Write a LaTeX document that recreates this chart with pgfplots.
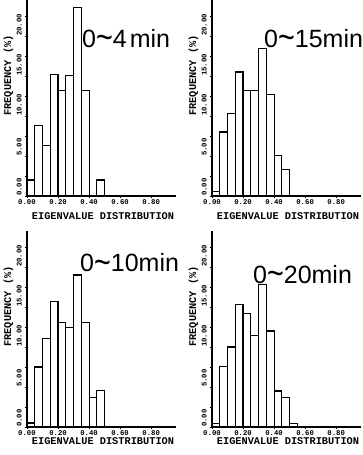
\documentclass[border=0pt]{standalone}
\usepackage{fontspec}
\setmainfont{Liberation Sans}
\newfontfamily\plotfont{Liberation Mono}
\usepackage{pgfplots}
\pgfplotsset{compat=1.18}

\newcommand{\tld}{\raisebox{-2.5pt}{\scalebox{1.15}[1.45]{\textasciitilde}}}

\pgfplotsset{eig/.style={
  scale only axis, width=149pt, height=196pt,
  xmin=0, xmax=0.96, ymin=0, ymax=24.5,
  axis lines=left, axis line style={-, line width=1.2pt},
  xtick={0,0.2,0.4,0.6,0.8}, xticklabels={0.00,0.20,0.40,0.60,0.80},
  ytick={0,5,10,15,20}, yticklabels={0.00,5.00,10.00,15.00,20.00},
  minor ytick={2.5,7.5,12.5,17.5,22.5},
  tick align=outside, major tick length=2.5pt, minor tick length=2.5pt,
  every tick/.style={black, line width=0.8pt},
  tick label style={font=\plotfont\bfseries\fontsize{7.3}{8}\selectfont},
  yticklabel style={xshift=-2.5pt, rotate=90, anchor=south west, inner sep=0pt},
  xticklabel style={inner sep=0pt, anchor=north, yshift=-1pt},
  xlabel={EIGENVALUE DISTRIBUTION},
  ylabel={FREQUENCY (\%)},
  label style={font=\plotfont\bfseries\fontsize{10.3}{12}\selectfont, inner sep=0pt},
  ylabel style={at={(axis description cs:-0.125,0.615)}, anchor=center},
  ybar, bar width=0.05, bar shift=0pt,
  clip=false,
}}
\tikzset{ttl/.style={anchor=base west, inner sep=0pt, font=\fontsize{25}{30}\selectfont},
  hbar/.style={ybar, draw=black, fill=white, line width=1.15pt}}

\begin{document}
\begin{tikzpicture}
\useasboundingbox (0,0) rectangle (362pt,455pt);

% top left: 0~4 min
\begin{axis}[eig, at={(27pt,259pt)}, anchor=south west,
  xlabel style={at={(axis description cs:0.51,-0.102)}, anchor=center}]
\addplot[hbar] coordinates {(0.025,2.0) (0.075,8.8) (0.125,6.3) (0.175,15.2) (0.225,13.2)
  (0.275,15.1) (0.325,23.6) (0.375,13.2) (0.475,2.0)};
\node[ttl] at (axis description cs:0.369,0.76) {0\tld4\hspace{3pt}min};
\end{axis}

% top right: 0~15 min
\begin{axis}[eig, at={(212pt,259pt)}, anchor=south west,
  xlabel style={at={(axis description cs:0.51,-0.102)}, anchor=center}]
\addplot[hbar] coordinates {(0.025,0.6) (0.075,8.0) (0.125,10.3) (0.175,15.5) (0.225,13.2)
  (0.275,13.2) (0.325,18.4) (0.375,12.7) (0.425,5.1) (0.475,3.3)};
\node[ttl] at (axis description cs:0.349,0.76) {0\tld15min};
\end{axis}

% bottom left: 0~10 min
\begin{axis}[eig, at={(27pt,28pt)}, anchor=south west,
  xlabel style={at={(axis description cs:0.51,-0.072)}, anchor=center}]
\addplot[hbar] coordinates {(0.025,0.5) (0.075,7.5) (0.125,11.1) (0.175,15.7) (0.225,13.1)
  (0.275,12.4) (0.325,19.0) (0.375,13.1) (0.425,3.7) (0.475,4.6)};
\node[ttl] at (axis description cs:0.356,0.792) {0\tld10min};
\end{axis}

% bottom right: 0~20 min
\begin{axis}[eig, at={(212pt,28pt)}, anchor=south west,
  xlabel style={at={(axis description cs:0.51,-0.072)}, anchor=center}]
\addplot[hbar] coordinates {(0.025,0.4) (0.075,7.6) (0.125,10.0) (0.175,15.3) (0.225,14.2)
  (0.275,11.4) (0.325,17.8) (0.375,12.0) (0.425,4.5) (0.475,3.7) (0.525,0.4)};
\node[ttl] at (axis description cs:0.275,0.733) {0\tld20min};
\end{axis}
\end{tikzpicture}
\end{document}
